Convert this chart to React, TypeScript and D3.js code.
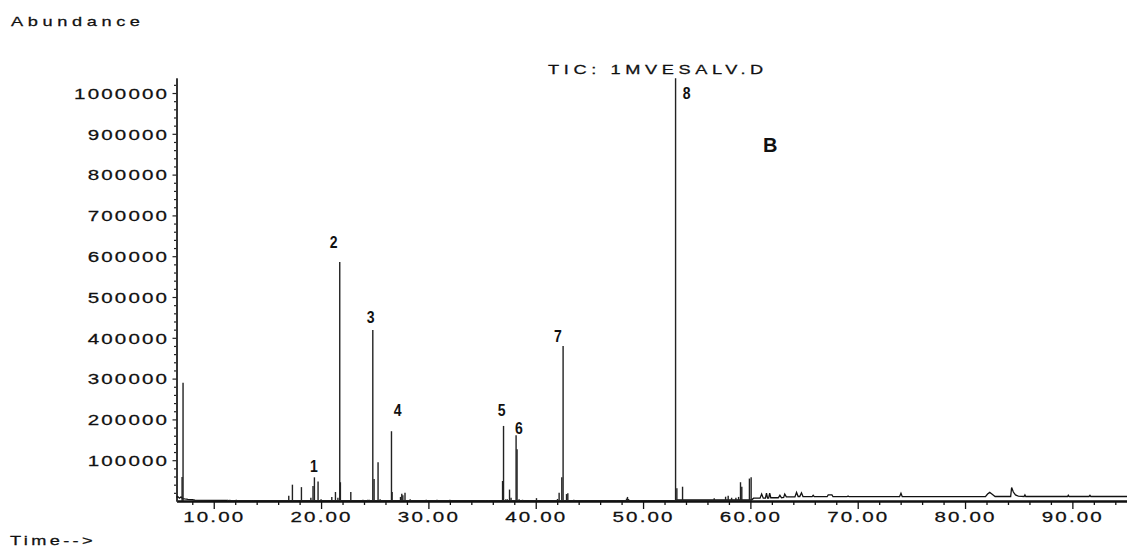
import * as d3 from "d3";
import { useEffect, useRef } from "react";

// retention time (min), abundance of each spike in the TIC
const peaks: [number, number][] = [
  [7.05, 59000], [7.14, 290000],
  [11.3, 3000], [11.5, 3000], [11.8, 2500], [12.1, 3000], [13.5, 2500], [13.7, 2500],
  [16.99, 13000], [17.33, 40000], [18.17, 34000], [19.05, 8000], [19.25, 37000],
  [19.38, 58000], [19.72, 48000], [20.0, 4000],
  [21.0, 10000], [21.34, 22000], [21.57, 8000], [21.74, 586000], [21.8, 46000],
  [22.77, 22000], [23.9, 3000], [24.35, 3000], [24.5, 3000],
  [24.82, 419000], [24.94, 54000], [25.31, 95000], [25.5, 4000],
  [26.56, 171000], [26.62, 22000],
  [27.4, 10000], [27.52, 18000], [27.62, 14000], [27.82, 20000], [28.3, 4000],
  [29.8, 3000], [30.8, 3000], [32.0, 3000], [35.3, 2500], [35.6, 2500],
  [36.91, 49000], [37.0, 184000], [37.2, 4000], [37.35, 4000], [37.56, 28000], [37.7, 8000],
  [38.17, 161000], [38.26, 127000], [38.45, 4000], [38.77, 3000], [39.4, 2000], [40.07, 7000],
  [42.03, 5000], [42.18, 20000], [42.43, 58000], [42.55, 380000], [42.87, 17000], [42.99, 19000],
  [43.55, 3000], [44.5, 2000], [47.5, 2500], [48.46, 6000], [48.55, 10000], [48.65, 5000],
  [49.5, 2000], [49.9, 2000], [50.4, 2000],
  [53.03, 1036000], [53.15, 31000], [53.68, 35000],
  [56.63, 6500], [57.69, 10500], [57.93, 13000], [58.25, 8000], [58.65, 8000], [58.9, 10000],
  [59.08, 46000], [59.2, 35000], [59.91, 55000], [60.07, 58000],
];

// baseline of the trace, with the small bumps of the late part
const baseline: [number, number][] = [
  [6.53, 9000], [6.65, 11000], [6.8, 7000], [6.95, 10000], [7.1, 6000], [7.3, 5000],
  [7.6, 4000], [8.0, 3500], [8.25, 2000], [11.2, 1500], [11.4, 0],
  [52.95, 0], [53.2, 2500], [59.9, 2500], [60.15, 3500], [60.3, 7000], [60.9, 7000],
  [61.05, 17000], [61.2, 7000], [61.4, 7000], [61.5, 19000], [61.6, 7000], [61.7, 7000],
  [61.8, 19000], [61.9, 8000], [62.6, 8000], [62.75, 14000], [62.9, 8000], [63.1, 9000],
  [63.2, 17000], [63.35, 10000],
  [64.15, 10000], [64.3, 21000], [64.45, 11000], [64.6, 11000], [64.76, 20000], [64.9, 11000],
  [65.75, 10500], [65.85, 14000], [65.95, 10500], [67.15, 10500], [67.25, 15000],
  [67.6, 15000], [67.7, 10500], [69.0, 10500], [69.1, 12000], [69.2, 10500],
  [73.9, 10500], [74.03, 19000], [74.15, 10500],
  [81.9, 10500], [82.1, 17000], [82.3, 21000], [82.5, 17000], [82.8, 11000],
  [84.25, 11000], [84.34, 33000], [84.5, 22000], [84.7, 15000], [84.96, 12000],
  [85.5, 11000], [85.58, 15000], [85.66, 11000],
  [89.55, 11000], [89.62, 14000], [89.7, 11000],
  [91.55, 11000], [91.64, 14000], [91.72, 11000], [95.09, 11000],
];

const peakLabels: [string, number, number][] = [
  ["1", 19.32, 86000], ["2", 21.18, 635000], ["3", 24.63, 451000], ["4", 27.14, 223000],
  ["5", 36.83, 223000], ["6", 38.42, 179000], ["7", 42.06, 404000], ["8", 54.07, 1000000],
];

const xTicks = [10, 20, 30, 40, 50, 60, 70, 80, 90];
const xMinorTicks = d3.range(8, 96, 2).filter((t) => t % 10 !== 0);
const yTicks = [100000, 200000, 300000, 400000, 500000, 600000, 700000, 800000, 900000, 1000000];
const yMinorTicks = d3.range(20000, 1036000, 20000).filter((v) => v % 100000 !== 0);

const FONT = "'Liberation Sans', Arial, sans-serif";

function Chromatogram() {
  const ref = useRef<SVGSVGElement>(null);

  useEffect(() => {
    const svg = d3.select(ref.current);
    svg.selectAll("*").remove();

    const x = d3.scaleLinear().domain([6.53, 95.09]).range([176.5, 1127]);
    const y = d3.scaleLinear().domain([0, 1036800]).range([501, 78]);

    const wide = (sel: d3.Selection<any, any, any, any>, size: number, ls: number) =>
      sel
        .attr("font-family", FONT)
        .attr("font-size", size)
        .attr("letter-spacing", ls)
        .attr("fill", "#111")
        .attr("stroke", "#111")
        .attr("stroke-width", 0.25);

    // x axis
    const gx = svg.append("g").attr("transform", `translate(0,${y(0)})`);
    gx.call(d3.axisBottom(x).tickValues(xMinorTicks).tickSize(4).tickSizeOuter(0).tickFormat(() => ""));
    gx.append("g").call(
      d3.axisBottom(x).tickValues(xTicks).tickSize(8).tickSizeOuter(0).tickFormat(d3.format(".2f")),
    );
    gx.selectAll("path.domain").attr("stroke", "#111").attr("stroke-width", 1.8);
    gx.selectAll("line").attr("stroke", "#111").attr("stroke-width", 1.3);
    wide(gx.selectAll("text"), 14.5, 1.5)
      .attr("y", 21.5)
      .attr("dy", 0)
      .attr("transform", "scale(1.42,1)");

    // y axis
    const gy = svg.append("g").attr("transform", `translate(${x(6.53)},0)`);
    gy.call(d3.axisLeft(y).tickValues(yMinorTicks).tickSize(2.5).tickSizeOuter(0).tickFormat(() => ""));
    gy.append("g").call(
      d3.axisLeft(y).tickValues(yTicks).tickSize(4).tickSizeOuter(0).tickFormat(d3.format("d")),
    );
    gy.selectAll("path.domain").attr("stroke", "#333").attr("stroke-width", 1.8);
    gy.selectAll("line").attr("stroke", "#222").attr("stroke-width", 1.2);
    wide(gy.selectAll("text"), 14.5, 1.5)
      .attr("x", -5.2)
      .attr("dy", "0.36em")
      .attr("transform", "scale(1.42,1)");

    // trace
    const line = d3
      .line<[number, number]>()
      .x((d) => x(d[0]))
      .y((d) => y(d[1]));
    svg
      .append("path")
      .datum(baseline)
      .attr("fill", "none")
      .attr("stroke", "#111")
      .attr("stroke-width", 1.3)
      .attr("d", line);

    svg
      .append("g")
      .selectAll("line")
      .data(peaks)
      .join("line")
      .attr("x1", (d) => x(d[0]))
      .attr("x2", (d) => x(d[0]))
      .attr("y1", y(0))
      .attr("y2", (d) => y(d[1]))
      .attr("stroke", "#222")
      .attr("stroke-width", 1.4);

    // peak numbers
    svg
      .append("g")
      .selectAll("text")
      .data(peakLabels)
      .join("text")
      .attr("transform", (d) => `translate(${x(d[1])},${y(d[2])}) scale(0.85,1)`)
      .attr("text-anchor", "middle")
      .attr("dy", "0.36em")
      .attr("font-family", FONT)
      .attr("font-weight", "bold")
      .attr("font-size", 16.5)
      .attr("fill", "#111")
      .text((d) => d[0]);

    // titles
    wide(svg.append("text"), 13, 3.3)
      .attr("transform", "translate(11,26) scale(1.4,1)")
      .text("Abundance");
    wide(svg.append("text"), 13, 2.4)
      .attr("transform", "translate(10,545) scale(1.4,1)")
      .text("Time-->");
    wide(svg.append("text"), 13, 3.3)
      .attr("transform", "translate(548,74) scale(1.4,1)")
      .text("TIC: 1MVESALV.D");
    svg
      .append("text")
      .attr("x", 763)
      .attr("y", 152)
      .attr("font-family", FONT)
      .attr("font-weight", "bold")
      .attr("font-size", 20)
      .attr("fill", "#111")
      .text("B");
  }, []);

  return (
    <svg
      ref={ref}
      width={1127}
      height={549}
      style={{ position: "absolute", left: 0, top: 0, background: "#fff" }}
    />
  );
}

export default function App() {
  return <Chromatogram />;
}
